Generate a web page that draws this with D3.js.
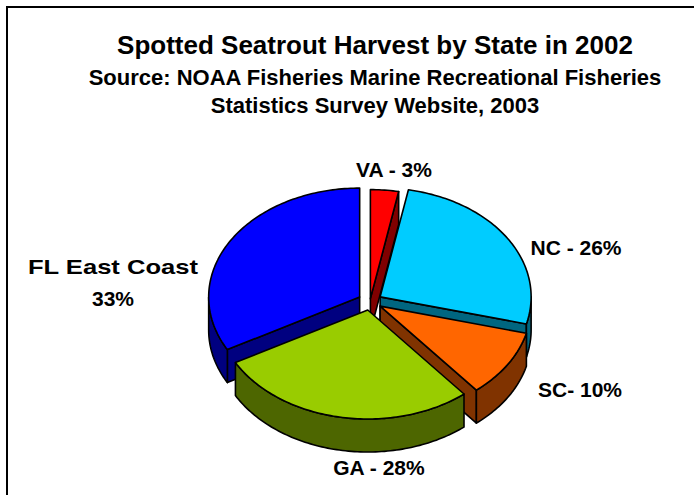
<!DOCTYPE html>
<html><head><meta charset="utf-8">
<script src="https://cdn.jsdelivr.net/npm/d3@7"></script>
<style>
body{margin:0;background:#fff;}
svg{display:block;}
text{font-family:Arial,"Liberation Sans",sans-serif;font-weight:bold;fill:#000;}
</style>
</head><body>
<svg id="c" width="694" height="495"></svg>
<script>
// ---- data ----
const states = ["VA", "NC", "SC", "GA", "FL East Coast"];
const shares = [3, 26, 10, 28, 33];
const labelLines = [["VA - 3%"], ["NC - 26%"], ["SC- 10%"], ["GA - 28%"], ["FL East Coast", "33%"]];
const titleLines = ["Spotted Seatrout Harvest by State in 2002",
  "Source: NOAA Fisheries Marine Recreational Fisheries",
  "Statistics Survey Website, 2003"];

// ---- styles / layout ----
const topColors = ["#FF0000", "#00CCFF", "#FF6600", "#99CC00", "#0000FF"];
const sideColors = ["#800000", "#006680", "#803300", "#4D6600", "#000080"];
const explode = [4, 12, 12, 12, 12];
const labelPos = [[394, 177], [576, 255], [580, 397], [379, 475], [113, 274]];

const svg = d3.select("#c");
svg.append("rect").attr("x", 7).attr("y", 7).attr("width", 720).attr("height", 520)
  .attr("fill", "none").attr("stroke", "#000").attr("stroke-width", 2);

// titles
const titleStyle = [{y: 54, s: 26}, {y: 85, s: 22}, {y: 113, s: 22}];
titleLines.forEach((t, i) => {
  svg.append("text").attr("x", 375).attr("y", titleStyle[i].y)
    .attr("text-anchor", "middle").style("font-size", titleStyle[i].s + "px").text(t);
});

// pie geometry
const cx = 370, cy = 301.5, rx = 151, ry = 109, depth = 33;
const arcs = d3.pie().sort(null).value(d => d).startAngle(0).endAngle(2 * Math.PI)(shares);
const line = d3.line();

function rim(o, a, dz) { return [o[0] + rx * Math.sin(a), o[1] - ry * Math.cos(a) + (dz || 0)]; }
function arcPts(o, a0, a1, dz) {
  const n = Math.max(2, Math.ceil((a1 - a0) / 0.02));
  return d3.range(n + 1).map(i => rim(o, a0 + (a1 - a0) * i / n, dz));
}

const slices = arcs.map((d, i) => {
  const mid = (d.startAngle + d.endAngle) / 2;
  const o = [cx + explode[i] * Math.sin(mid), cy - explode[i] * (ry / rx) * Math.cos(mid)];
  return {d, i, mid, o};
}).sort((a, b) => Math.cos(b.mid) - Math.cos(a.mid));

const g = svg.append("g").attr("stroke", "#000").attr("stroke-width", 1.6).attr("stroke-linejoin", "round");

slices.forEach(s => {
  const {d, i, o} = s;
  const a0 = d.startAngle, a1 = d.endAngle;
  const walls = [];
  if (Math.sin(a0) < -1e-6) {
    const r = rim(o, a0);
    walls.push([o, r, [r[0], r[1] + depth], [o[0], o[1] + depth]]);
  }
  if (Math.sin(a1) > 1e-6) {
    const r = rim(o, a1);
    walls.push([o, r, [r[0], r[1] + depth], [o[0], o[1] + depth]]);
  }
  const w0 = Math.max(a0, Math.PI / 2), w1 = Math.min(a1, 3 * Math.PI / 2);
  if (w1 > w0) {
    const top = arcPts(o, w0, w1, 0);
    const bot = arcPts(o, w0, w1, depth).reverse();
    walls.push(top.concat(bot));
  }
  walls.forEach(w => g.append("path").attr("d", line(w) + "Z").attr("fill", sideColors[i]));
  const topPts = [o].concat(arcPts(o, a0, a1, 0));
  g.append("path").attr("d", line(topPts) + "Z").attr("fill", topColors[i]);
});

// labels
labelLines.forEach((lines, i) => {
  lines.forEach((t, j) => {
    const tx = svg.append("text").attr("x", labelPos[i][0]).attr("y", labelPos[i][1] + j * 32)
      .attr("text-anchor", "middle").style("font-size", "21px").text(t);
    if (i === 4 && j === 0) tx.attr("textLength", 170).attr("lengthAdjust", "spacingAndGlyphs");
  });
});
</script>
</body></html>
